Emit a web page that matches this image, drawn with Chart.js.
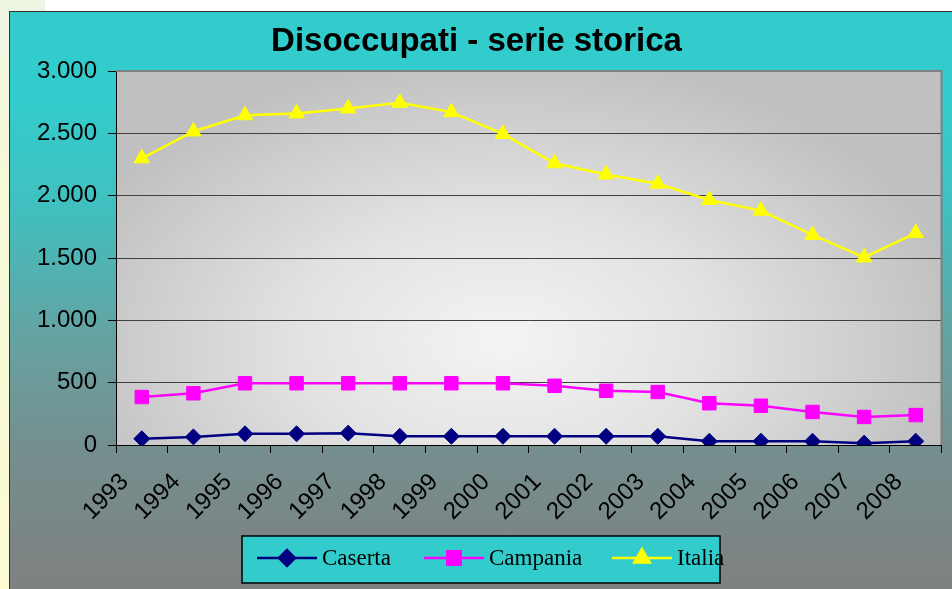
<!DOCTYPE html>
<html>
<head>
<meta charset="utf-8">
<script src="https://cdn.jsdelivr.net/npm/chart.js@4.4.1/dist/chart.umd.min.js"></script>
<style>
  html, body { margin: 0; padding: 0; background: #fff; width: 952px; height: 589px; overflow: hidden; }
  #strip { position: absolute; left: 0; top: 0; width: 9px; height: 589px;
           background: linear-gradient(to bottom, #eef5e2 0%, #f6f9d8 30%, #fbfbd3 100%); }
  #topleft { position: absolute; left: 0; top: 0; width: 45px; height: 11px; background: #eef5e2; }
  #frame { position: absolute; left: 9px; top: 11px; width: 943px; height: 578px;
           border-left: 1px solid #333; border-top: 1px solid #333; box-sizing: border-box;
           background: linear-gradient(to bottom, #33cccc 0%, #33cccc 15%, #40c0c0 33%, #6a9e9e 60%, #758e8e 76%, #7f8181 100%); }
  #chart { position: absolute; left: 0; top: 0; }
</style>
</head>
<body>
<div id="strip"></div>
<div id="topleft"></div>
<div id="frame"><canvas id="chart" width="942" height="577"></canvas></div>
<script>
const years = ['1993', '1994', '1995', '1996', '1997', '1998', '1999', '2000',
               '2001', '2002', '2003', '2004', '2005', '2006', '2007', '2008'];
const caserta = [50, 65, 90, 90, 95, 70, 70, 70, 70, 70, 70, 30, 30, 30, 15, 30];
const campania = [385, 415, 495, 495, 495, 495, 495, 495, 475, 435, 425, 335, 315, 265, 225, 240];
const italia = [2300, 2515, 2645, 2660, 2700, 2745, 2670, 2495, 2260, 2170, 2095, 1965, 1880, 1685, 1505, 1700];
const yTicks = [0, 500, 1000, 1500, 2000, 2500, 3000];

const sansFont = 'Arial, "Liberation Sans", sans-serif';

// numeri con il punto delle migliaia
function fmt(v) {
    return String(v).replace(/\B(?=(\d{3})+(?!\d))/g, '.');
}

// sfondo grigio sfumato dell'area del grafico + bordo grigio
const plotBackground = {
    id: 'plotBackground',
    beforeDraw(chart) {
        const { ctx, chartArea: a } = chart;
        const cx = a.left + a.width * 0.47;
        const cy = a.top + a.height * 0.72;
        ctx.save();
        ctx.fillStyle = '#c0c0c0';
        ctx.fillRect(a.left, a.top, a.width, a.height);
        ctx.beginPath();
        ctx.rect(a.left, a.top, a.width, a.height);
        ctx.clip();
        ctx.translate(cx, cy);
        ctx.scale(1, 0.62);
        const g = ctx.createRadialGradient(0, 0, 0, 0, 0, a.width * 0.56);
        g.addColorStop(0, '#f4f4f4');
        g.addColorStop(0.45, '#e2e2e2');
        g.addColorStop(1, '#c0c0c0');
        ctx.fillStyle = g;
        ctx.fillRect(-a.width, -a.height * 2, a.width * 2, a.height * 4);
        ctx.restore();
    },
    beforeDatasetsDraw(chart) {
        const { ctx, chartArea: a } = chart;
        ctx.save();
        ctx.strokeStyle = '#808080';
        ctx.lineWidth = 2;
        ctx.beginPath();
        ctx.moveTo(a.left, a.top);
        ctx.lineTo(a.right, a.top);
        ctx.lineTo(a.right, a.bottom);
        ctx.stroke();
        ctx.restore();
    }
};

// legenda in basso con linea + simbolo, come in Excel
const boxLegend = {
    id: 'boxLegend',
    afterDraw(chart) {
        const ctx = chart.ctx;
        const box = { x: 232, y: 524, w: 478, h: 47 };
        const entries = [
            { line: 247, mark: 277, text: 312 },
            { line: 414, mark: 444, text: 479 },
            { line: 602, mark: 632, text: 667 }
        ];
        const ly = box.y + 22;
        ctx.save();
        ctx.fillStyle = '#33cccc';
        ctx.fillRect(box.x, box.y, box.w, box.h);
        ctx.strokeStyle = '#000';
        ctx.lineWidth = 1.5;
        ctx.strokeRect(box.x, box.y, box.w, box.h);
        chart.data.datasets.forEach((ds, i) => {
            const e = entries[i];
            ctx.strokeStyle = ds.borderColor;
            ctx.lineWidth = 2.5;
            ctx.beginPath();
            ctx.moveTo(e.line, ly);
            ctx.lineTo(e.line + 60, ly);
            ctx.stroke();
            ctx.fillStyle = ds.pointBackgroundColor;
            ctx.strokeStyle = ds.borderColor;
            Chart.helpers.drawPoint(ctx, {
                pointStyle: ds.pointStyle, rotation: 0,
                radius: ds.pointRadius, borderWidth: 1
            }, e.mark, ly);
            ctx.fillStyle = '#000';
            ctx.font = '23px "Liberation Serif", "Times New Roman", serif';
            ctx.textBaseline = 'alphabetic';
            ctx.fillText(ds.label, e.text, ly + 7);
        });
        ctx.restore();
    }
};

new Chart(document.getElementById('chart'), {
    type: 'line',
    data: {
        labels: years,
        datasets: [
            {
                label: 'Caserta', data: caserta,
                borderColor: '#000080', backgroundColor: '#000080', pointBackgroundColor: '#000080',
                borderWidth: 2.5, pointStyle: 'rectRot', pointRadius: 8, pointBorderWidth: 1
            },
            {
                label: 'Campania', data: campania,
                borderColor: '#ff00ff', backgroundColor: '#ff00ff', pointBackgroundColor: '#ff00ff',
                borderWidth: 2.5, pointStyle: 'rect', pointRadius: 9.5, pointBorderWidth: 1
            },
            {
                label: 'Italia', data: italia,
                borderColor: '#ffff00', backgroundColor: '#ffff00', pointBackgroundColor: '#ffff00',
                borderWidth: 2.5, pointStyle: 'triangle', pointRadius: 9, pointBorderWidth: 1
            }
        ]
    },
    options: {
        responsive: false,
        animation: false,
        layout: { padding: { left: 0, right: 9, top: 0, bottom: 0 } },
        plugins: {
            legend: { display: false },
            tooltip: { enabled: false },
            title: {
                display: true,
                text: 'Disoccupati - serie storica',
                color: '#000',
                font: { family: sansFont, size: 33, weight: 'bold', lineHeight: 1.2 },
                padding: { top: 10, bottom: 9.4 }
            }
        },
        scales: {
            x: {
                offset: true,
                grid: { offset: true, drawOnChartArea: false, tickLength: 8, tickColor: '#000', tickWidth: 1 },
                border: { color: '#000', width: 1 },
                ticks: {
                    color: '#000', minRotation: 45, maxRotation: 45, padding: 15, labelOffset: -17,
                    font: { family: sansFont, size: 24 }
                },
                afterFit(scale) {
                    scale.height = 144;
                    scale.paddingLeft = 0;
                    scale.paddingRight = 0;
                }
            },
            y: {
                min: 0, max: 3000,
                afterBuildTicks(scale) { scale.ticks = yTicks.map(v => ({ value: v })); },
                grid: { color: '#404040', lineWidth: 1, tickLength: 8, tickColor: '#000' },
                border: { color: '#000', width: 1 },
                ticks: {
                    color: '#000', padding: 11,
                    font: { family: sansFont, size: 24 },
                    callback: v => fmt(v)
                },
                afterFit(scale) { scale.width = 106; }
            }
        }
    },
    plugins: [plotBackground, boxLegend]
});
</script>
</body>
</html>
